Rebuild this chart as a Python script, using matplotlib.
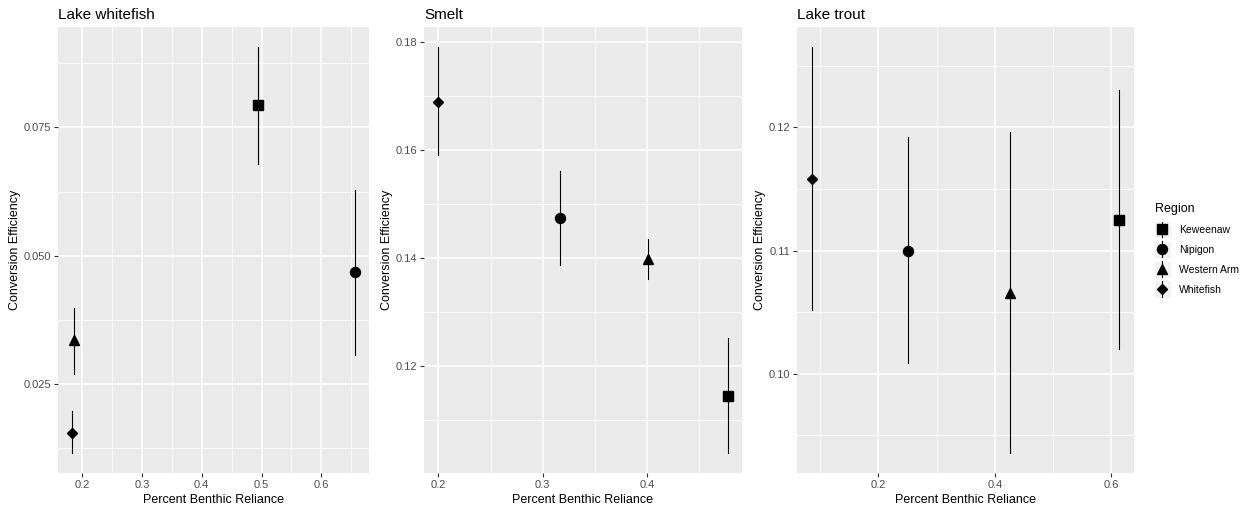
import matplotlib
matplotlib.use("Agg")
import matplotlib.pyplot as plt
import numpy as np
from matplotlib.legend_handler import HandlerBase
from matplotlib.lines import Line2D
from matplotlib.patches import Rectangle
from matplotlib.ticker import MultipleLocator

plt.rcParams['font.family'] = ['Liberation Sans', 'DejaVu Sans']

# ---- data ----
regions = ["Keweenaw", "Nipigon", "Western Arm", "Whitefish"]
markers = {"Keweenaw": "s", "Nipigon": "o", "Western Arm": "^", "Whitefish": "D"}
msizes = {"Keweenaw": 6.8, "Nipigon": 7.2, "Western Arm": 7.8, "Whitefish": 4.6}

species = ["Lake whitefish", "Smelt", "Lake trout"]

# order: Keweenaw, Nipigon, Western Arm, Whitefish
whitefish_x = [0.4945, 0.656, 0.186, 0.1834]
whitefish_y = [0.0794, 0.0468, 0.0336, 0.01545]
whitefish_lo = [0.0679, 0.0307, 0.0269, 0.01167]
whitefish_hi = [0.0906, 0.0628, 0.0398, 0.0197]

smelt_x = [0.4772, 0.317, 0.4013, 0.200]
smelt_y = [0.1145, 0.1474, 0.1399, 0.169]
smelt_lo = [0.1040, 0.1387, 0.1362, 0.1591]
smelt_hi = [0.1252, 0.1561, 0.1435, 0.1791]

trout_x = [0.6126, 0.251, 0.4258, 0.0865]
trout_y = [0.1125, 0.1100, 0.1066, 0.1158]
trout_lo = [0.1020, 0.1009, 0.0936, 0.1052]
trout_hi = [0.1230, 0.1192, 0.1196, 0.1265]

panels = [
    (whitefish_x, whitefish_y, whitefish_lo, whitefish_hi, 0.1, 0.025, "{:.3f}"),
    (smelt_x, smelt_y, smelt_lo, smelt_hi, 0.1, 0.02, "{:.2f}"),
    (trout_x, trout_y, trout_lo, trout_hi, 0.2, 0.01, "{:.2f}"),
]

W, H = 1257, 514
fig = plt.figure(figsize=(W / 100, H / 100), dpi=100)

boxes = [(58, 369), (424, 742), (797, 1134)]
top_px, bot_px = 27, 473

for (l, r), name, (xs, ys, lo, hi, xstep, ystep, yfmt) in zip(boxes, species, panels):
    ax = fig.add_axes([l / W, 1 - bot_px / H, (r - l) / W, (bot_px - top_px) / H])
    ax.set_facecolor("#EBEBEB")
    for sp in ax.spines.values():
        sp.set_visible(False)

    for i, reg in enumerate(regions):
        ax.plot([xs[i], xs[i]], [lo[i], hi[i]], color="black", lw=0.8, zorder=3)
        ax.plot(xs[i], ys[i], marker=markers[reg], ms=msizes[reg], color="black",
                linestyle="none", zorder=4)

    # ggplot-like 5% expansion
    xmin, xmax = min(xs), max(xs)
    ymin, ymax = min(lo), max(hi)
    dx, dy = (xmax - xmin) * 0.05, (ymax - ymin) * 0.05
    ax.set_xlim(xmin - dx, xmax + dx)
    ax.set_ylim(ymin - dy, ymax + dy)

    ax.xaxis.set_major_locator(MultipleLocator(xstep))
    ax.xaxis.set_minor_locator(MultipleLocator(xstep / 2))
    ax.yaxis.set_major_locator(MultipleLocator(ystep))
    ax.yaxis.set_minor_locator(MultipleLocator(ystep / 2))
    ax.yaxis.set_major_formatter(plt.FuncFormatter(lambda v, p, f=yfmt: f.format(v)))
    ax.xaxis.set_major_formatter(plt.FuncFormatter(lambda v, p: "{:g}".format(round(v, 3))))

    ax.grid(which="major", color="white", lw=1.1, zorder=0)
    ax.grid(which="minor", color="white", lw=0.55, zorder=0)
    ax.set_axisbelow(True)
    ax.tick_params(which="major", length=3, width=0.8, color="#333333",
                   labelsize=8, labelcolor="#4D4D4D", pad=2)
    ax.tick_params(which="minor", length=0)

    ax.set_xlabel("Percent Benthic Reliance", fontsize=9, color="black", labelpad=3)
    ax.set_ylabel("Conversion Efficiency", fontsize=9, color="black", labelpad=1.5)
    ax.set_title(name, fontsize=11, loc="left", pad=6)


class PointRangeKey(HandlerBase):
    def legend_artist(self, legend, orig_handle, fontsize, handlebox):
        w, h = handlebox.width, handlebox.height
        cx, cy = w / 2, h / 2
        side = 12.4
        bg = Rectangle((cx - side / 2, cy - side / 2), side, side, facecolor="#F2F2F2",
                       edgecolor="white", lw=0.8)
        vline = Line2D([cx, cx], [cy - side / 2 + 0.5, cy + side / 2 - 0.5], color="black", lw=0.8)
        pt = Line2D([cx], [cy], marker=orig_handle.get_marker(), ms=orig_handle.get_markersize(),
                    color="black", linestyle="none")
        for a in (bg, vline, pt):
            handlebox.add_artist(a)
        return pt


handles = [Line2D([], [], marker=markers[r], ms=msizes[r], color="black", linestyle="none")
           for r in regions]
key = PointRangeKey()
leg = fig.legend(handles, regions, handler_map={h: key for h in handles},
                 loc="upper left", bbox_to_anchor=(1151 / W, 1 - 199 / H),
                 frameon=False, fontsize=7.5, title="Region", title_fontsize=9,
                 handlelength=1.4, handletextpad=0.9, labelspacing=0.95, borderaxespad=0)
leg._legend_box.align = "left"

fig.savefig("out.png", dpi=100)
